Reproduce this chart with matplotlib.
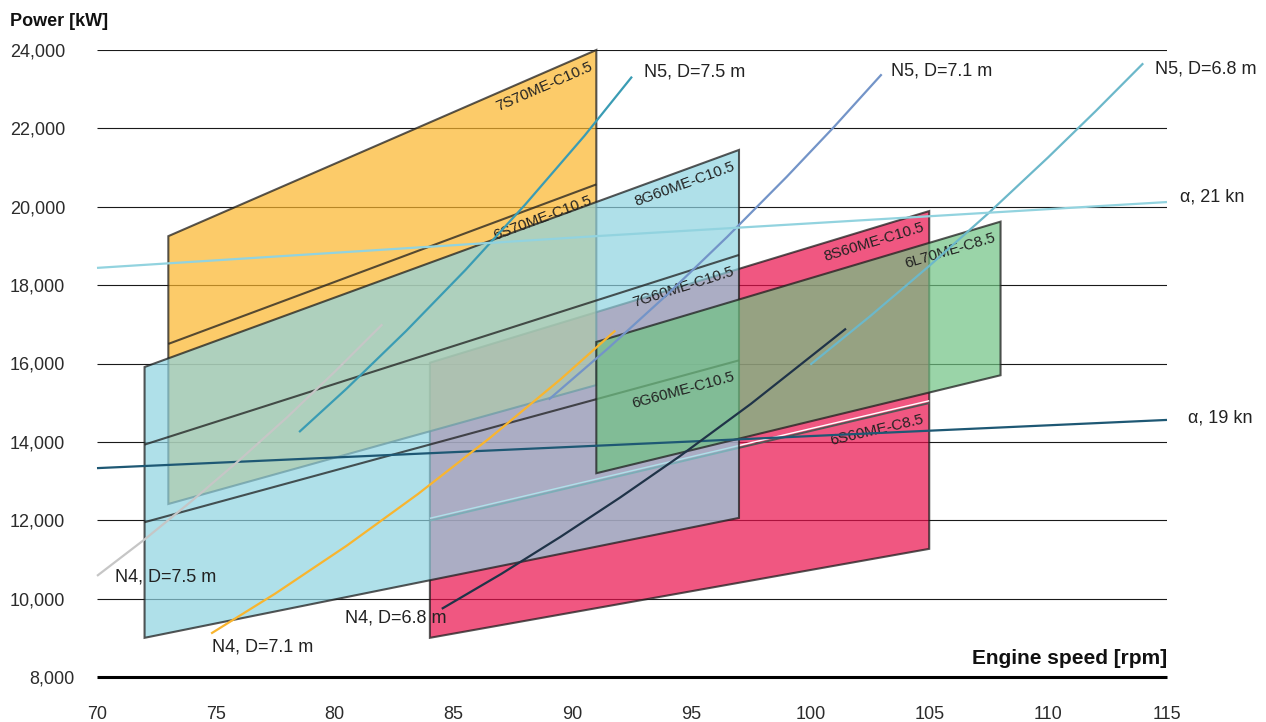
import numpy as np
import matplotlib.pyplot as plt
from matplotlib.patches import Polygon

plt.rcParams["font.family"] = ["Liberation Sans", "DejaVu Sans"]

INK = "#222222"
EDGE = "#1e1e1e"

# engine layout boxes: power [kW] at (min rpm, max rpm)
S70_RPM = [73, 91]
S70_7CYL = [19250, 24000]
S70_6CYL = [16500, 20570]
S70_LOW = [12415, 15450]

G60_RPM = [72, 97]
G60_8CYL = [15910, 21450]
G60_7CYL = [13930, 18770]
G60_6CYL = [11950, 16080]
G60_LOW = [9000, 12060]

S60_RPM = [84, 105]
S60_8CYL = [16020, 19890]
S60_6CYL = [11990, 14990]
S60_LOW = [9000, 11270]

L70_RPM = [91, 108]
L70_6CYL = [16550, 19620]
L70_LOW = [13200, 15700]

# propeller curves and constant-speed lines
N5_75_RPM = [78.5, 80.5, 83, 85.5, 88, 90.5, 92.5]
N5_75_KW = [14250, 15360, 16830, 18390, 20050, 21810, 23320]
N5_71_RPM = [89, 91.5, 94, 96.5, 99, 101, 103]
N5_71_KW = [15080, 16390, 17770, 19230, 20760, 22040, 23380]
N5_68_RPM = [100, 102.5, 105, 107.5, 110, 112, 114]
N5_68_KW = [15970, 17200, 18490, 19840, 21260, 22440, 23660]
N4_75_RPM = [70, 72, 74, 76, 78, 80, 82]
N4_75_KW = [10580, 11510, 12500, 13540, 14630, 15790, 17000]
N4_71_RPM = [74.8, 77.5, 80.5, 83.5, 86.5, 89.5, 91.8]
N4_71_KW = [9110, 10130, 11350, 12670, 14090, 15600, 16840]
N4_68_RPM = [84.5, 87, 89.5, 92, 94.5, 97.5, 101.5]
N4_68_KW = [9740, 10630, 11580, 12580, 13630, 14970, 16890]
A21_RPM = [70, 91, 115]
A21_KW = [18440, 19250, 20120]
A19_RPM = [70, 95, 115]
A19_KW = [13330, 14010, 14560]

X_TICKS = list(range(70, 116, 5))
Y_TICKS = list(range(10000, 24001, 2000))

fig = plt.figure(figsize=(12.66, 7.22), dpi=100)
ax = fig.add_axes([97 / 1266, 45 / 722, 1070 / 1266, 627 / 722])
ax.set_xlim(70, 115)
ax.set_ylim(8000, 24000)
for s in ax.spines.values():
    s.set_visible(False)

ax.hlines(Y_TICKS, 70, 115, color="#1a1a1a", lw=0.8, zorder=0)
ax.hlines(8000, 70, 115, color="black", lw=2.2, zorder=30, clip_on=False)


def box(rpm, low, high, face, z, inner=()):
    pts = [(rpm[0], low[0]), (rpm[1], low[1]), (rpm[1], high[1]), (rpm[0], high[0])]
    ax.add_patch(Polygon(pts, closed=True, fc=face, ec="none", alpha=0.7,
                         zorder=z, clip_on=False))
    ax.add_patch(Polygon(pts, closed=True, fill=False, ec=EDGE, lw=1.5, alpha=0.75,
                         zorder=z + 0.1, clip_on=False, joinstyle="miter"))
    for line in inner:
        ax.plot(rpm, line, color=EDGE, lw=1.5, alpha=0.75, zorder=z + 0.1,
                clip_on=False, solid_capstyle="butt")


# pink first, then orange, blue and green on top
box(S60_RPM, S60_LOW, S60_8CYL, "#EA104C", 1)
ax.plot(S60_RPM, [v + 60 for v in S60_6CYL], color="white", lw=1.0, zorder=1.2,
        solid_capstyle="butt")
ax.plot(S60_RPM, S60_6CYL, color="#555555", lw=1.4, zorder=1.2, solid_capstyle="butt")
box(S70_RPM, S70_LOW, S70_7CYL, "#FBB52A", 2, inner=[S70_6CYL])
box(G60_RPM, G60_LOW, G60_8CYL, "#8ED3E1", 3, inner=[G60_7CYL, G60_6CYL])
box(L70_RPM, L70_LOW, L70_6CYL, "#70C383", 4)


def box_label(rpm, kw, text):
    p0 = ax.transData.transform((rpm[0], kw[0]))
    p1 = ax.transData.transform((rpm[1], kw[1]))
    ang = np.degrees(np.arctan2(p1[1] - p0[1], p1[0] - p0[0]))
    ax.annotate(text, (rpm[1], kw[1]), xytext=(-7, -9), textcoords="offset pixels",
                rotation=ang, rotation_mode="anchor", ha="right", va="top",
                fontsize=11, color=INK, zorder=10)


box_label(S70_RPM, S70_7CYL, "7S70ME-C10.5")
box_label(S70_RPM, S70_6CYL, "6S70ME-C10.5")
box_label(G60_RPM, G60_8CYL, "8G60ME-C10.5")
box_label(G60_RPM, G60_7CYL, "7G60ME-C10.5")
box_label(G60_RPM, G60_6CYL, "6G60ME-C10.5")
box_label(S60_RPM, S60_8CYL, "8S60ME-C10.5")
box_label(S60_RPM, S60_6CYL, "6S60ME-C8.5")
box_label(L70_RPM, L70_6CYL, "6L70ME-C8.5")

curves = [
    (N5_75_RPM, N5_75_KW, "#3A9CB4", "N5, D=7.5 m", -1, (12, 5), "left"),
    (N5_71_RPM, N5_71_KW, "#7394C8", "N5, D=7.1 m", -1, (9, 3), "left"),
    (N5_68_RPM, N5_68_KW, "#6CB8CA", "N5, D=6.8 m", -1, (12, -6), "left"),
    (A21_RPM, A21_KW, "#92D3DF", "\u03b1, 21 kn", -1, (13, 5), "left"),
    (A19_RPM, A19_KW, "#1E5874", "\u03b1, 19 kn", -1, (21, 2), "left"),
    (N4_75_RPM, N4_75_KW, "#C6C6C6", "N4, D=7.5 m", 0, (18, -1), "left"),
    (N4_71_RPM, N4_71_KW, "#F9B52E", "N4, D=7.1 m", 0, (1, -13), "left"),
    (N4_68_RPM, N4_68_KW, "#1F3348", "N4, D=6.8 m", 0, (5, -9), "right"),
]
for rpm, kw, col, text, end, off, ha in curves:
    ax.plot(rpm, kw, color=col, lw=1.6, zorder=20, clip_on=False,
            solid_capstyle="butt", solid_joinstyle="round")
    ax.annotate(text, (rpm[end], kw[end]), xytext=off, textcoords="offset pixels",
                ha=ha, va="center", fontsize=13, color=INK, zorder=25,
                annotation_clip=False)

ax.set_xticks(X_TICKS)
ax.set_xticklabels([str(v) for v in X_TICKS])
ax.set_yticks(Y_TICKS)
ax.set_yticklabels([f"{v:,}" for v in Y_TICKS])
ax.tick_params(axis="x", length=0, pad=21, labelsize=13, labelcolor="#2b2b2b")
ax.tick_params(axis="y", length=0, pad=23, labelsize=13, labelcolor="#2b2b2b")
ax.annotate("8,000", (70, 8000), xytext=(-23, 0), textcoords="offset pixels",
            ha="right", va="center_baseline", fontsize=13, color="#2b2b2b",
            annotation_clip=False)

fig.text(10 / 1266, 1 - 21 / 722, "Power [kW]", ha="left", va="center",
         fontsize=13, fontweight="bold", color="#111111")
ax.annotate("Engine speed [rpm]", (115, 8000), xytext=(0, 18), textcoords="offset pixels",
            ha="right", va="center", fontsize=15, fontweight="bold", color="#111111",
            annotation_clip=False)

fig.savefig("out.png", dpi=100)
